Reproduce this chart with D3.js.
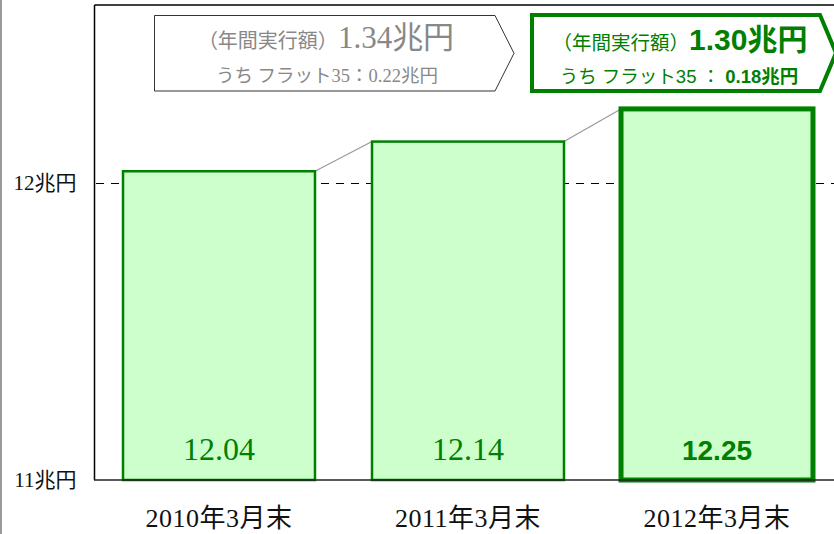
<!DOCTYPE html>
<html>
<head>
<meta charset="utf-8">
<script src="https://cdn.jsdelivr.net/npm/d3@7"></script>
<style>
  body { margin: 0; background: #fff; }
  svg { display: block; }
  .serif { font-family: "Liberation Serif", "Noto Sans CJK JP", serif; }
  .sans { font-family: "Liberation Sans", "Noto Sans CJK JP", sans-serif; }
</style>
</head>
<body>
<div id="chart"></div>
<script>
// chart data
var categories = ["2010年3月末", "2011年3月末", "2012年3月末"];
var balances = [12.04, 12.14, 12.25];
var valueLabels = ["12.04", "12.14", "12.25"];
var yTicks = [11, 12];
var annualAmounts = ["1.34兆円", "1.30兆円"];
var flat35Amounts = ["0.22兆円", "0.18兆円"];

var width = 834, height = 534;
var green = "#008000";

var svg = d3.select("#chart").append("svg")
    .attr("width", width)
    .attr("height", height);

// scales
var x = d3.scaleBand()
    .domain(categories)
    .range([94.5, 841.5])
    .paddingInner(0.229)
    .paddingOuter(0.1145);
var y = d3.scaleLinear()
    .domain([11, 12.6])
    .range([480, 5]);

// page border on the left
svg.append("line")
    .attr("x1", 1).attr("x2", 1).attr("y1", 0).attr("y2", height)
    .attr("stroke", "#999").attr("stroke-width", 2);

// frame: top and left
svg.append("line")
    .attr("x1", 94.5).attr("x2", width).attr("y1", y(12.6)).attr("y2", y(12.6))
    .attr("stroke", "#000").attr("stroke-width", 1.5);
svg.append("line")
    .attr("x1", 94.5).attr("x2", 94.5).attr("y1", y(12.6)).attr("y2", y(11))
    .attr("stroke", "#000").attr("stroke-width", 1.5);

// dashed line at 12
var y12 = Math.round(y(12)) + 0.5;
svg.append("line")
    .attr("x1", 96).attr("x2", width).attr("y1", y12).attr("y2", y12)
    .attr("stroke", "#000").attr("stroke-width", 1)
    .attr("stroke-dasharray", "8,7");

// connector lines between bar tops
for (var i = 0; i < categories.length - 1; i++) {
  svg.append("line")
      .attr("x1", x(categories[i]) + x.bandwidth())
      .attr("y1", y(balances[i]))
      .attr("x2", x(categories[i + 1]))
      .attr("y2", y(balances[i + 1]))
      .attr("stroke", "#999").attr("stroke-width", 1.2);
}

// bars
svg.selectAll(".bar")
    .data(balances)
  .enter().append("rect")
    .attr("class", "bar")
    .attr("x", function(d, i) { return x(categories[i]); })
    .attr("width", x.bandwidth())
    .attr("y", function(d) { return y(d); })
    .attr("height", function(d) { return y(11) - y(d); })
    .attr("fill", "#ccffcc")
    .attr("stroke", green)
    .attr("stroke-width", function(d, i) { return i === 2 ? 5 : 2.5; });

// bottom axis line
svg.append("line")
    .attr("x1", 94).attr("x2", width).attr("y1", y(11)).attr("y2", y(11))
    .attr("stroke", "#222").attr("stroke-width", 1.5);

// value labels inside bars
svg.selectAll(".val")
    .data(valueLabels)
  .enter().append("text")
    .attr("class", function(d, i) { return i === 2 ? "val sans" : "val serif"; })
    .attr("x", function(d, i) { return x(categories[i]) + x.bandwidth() / 2; })
    .attr("y", 460)
    .attr("text-anchor", "middle")
    .attr("fill", green)
    .attr("font-size", function(d, i) { return i === 2 ? "28px" : "32px"; })
    .attr("font-weight", function(d, i) { return i === 2 ? "bold" : "normal"; })
    .text(function(d) { return d; });

// y axis labels
var yAxis = svg.append("g")
    .attr("transform", "translate(94.5,0)")
    .call(d3.axisLeft(y).tickValues(yTicks).tickSize(0).tickPadding(18)
      .tickFormat(function(d) { return d + "兆円"; }));
yAxis.select(".domain").remove();
yAxis.selectAll("text")
    .attr("class", "serif")
    .attr("font-size", "21px")
    .attr("fill", "#111");

// x axis labels
var xAxis = svg.append("g")
    .attr("transform", "translate(0," + y(11) + ")")
    .call(d3.axisBottom(x).tickSize(0).tickPadding(29));
xAxis.select(".domain").remove();
xAxis.selectAll("text")
    .attr("class", "serif")
    .attr("font-size", "26px")
    .attr("letter-spacing", "0.5px")
    .attr("fill", "#111");

// callout boxes (annual amounts)
function callout(x0, x1, tip, top, bottom) {
  var mid = (top + bottom) / 2;
  return "M" + x0 + "," + top + "L" + x1 + "," + top + "L" + tip + "," + mid +
         "L" + x1 + "," + bottom + "L" + x0 + "," + bottom + "Z";
}

// left box: 2011
svg.append("path")
    .attr("d", callout(154.5, 495, 514, 15.5, 91))
    .attr("fill", "#fff").attr("stroke", "#333").attr("stroke-width", 1);
var t1 = svg.append("text")
    .attr("class", "serif")
    .attr("x", 326).attr("y", 48)
    .attr("text-anchor", "middle")
    .attr("fill", "#888");
t1.append("tspan").attr("font-size", "20px").text("（年間実行額）");
t1.append("tspan").attr("font-size", "31px").text(annualAmounts[0]);
svg.append("text")
    .attr("class", "serif")
    .attr("x", 327).attr("y", 82)
    .attr("text-anchor", "middle")
    .attr("fill", "#888")
    .attr("font-size", "18.5px")
    .text("うち フラット35：" + flat35Amounts[0]);

// right box: 2012
svg.append("path")
    .attr("d", callout(532, 820, 836, 15, 91))
    .attr("fill", "#fff").attr("stroke", green).attr("stroke-width", 4);
var t2 = svg.append("text")
    .attr("class", "sans")
    .attr("x", 680).attr("y", 50)
    .attr("text-anchor", "middle")
    .attr("fill", green);
t2.append("tspan").attr("font-size", "19.5px").text("（年間実行額）");
t2.append("tspan").attr("font-size", "30px").attr("font-weight", "bold").text(annualAmounts[1]);
var t3 = svg.append("text")
    .attr("class", "sans")
    .attr("x", 679).attr("y", 83)
    .attr("text-anchor", "middle")
    .attr("fill", green)
    .attr("font-size", "18.5px");
t3.append("tspan").text("うち フラット35 ： ");
t3.append("tspan").attr("font-weight", "bold").text(flat35Amounts[1]);
</script>
</body>
</html>
